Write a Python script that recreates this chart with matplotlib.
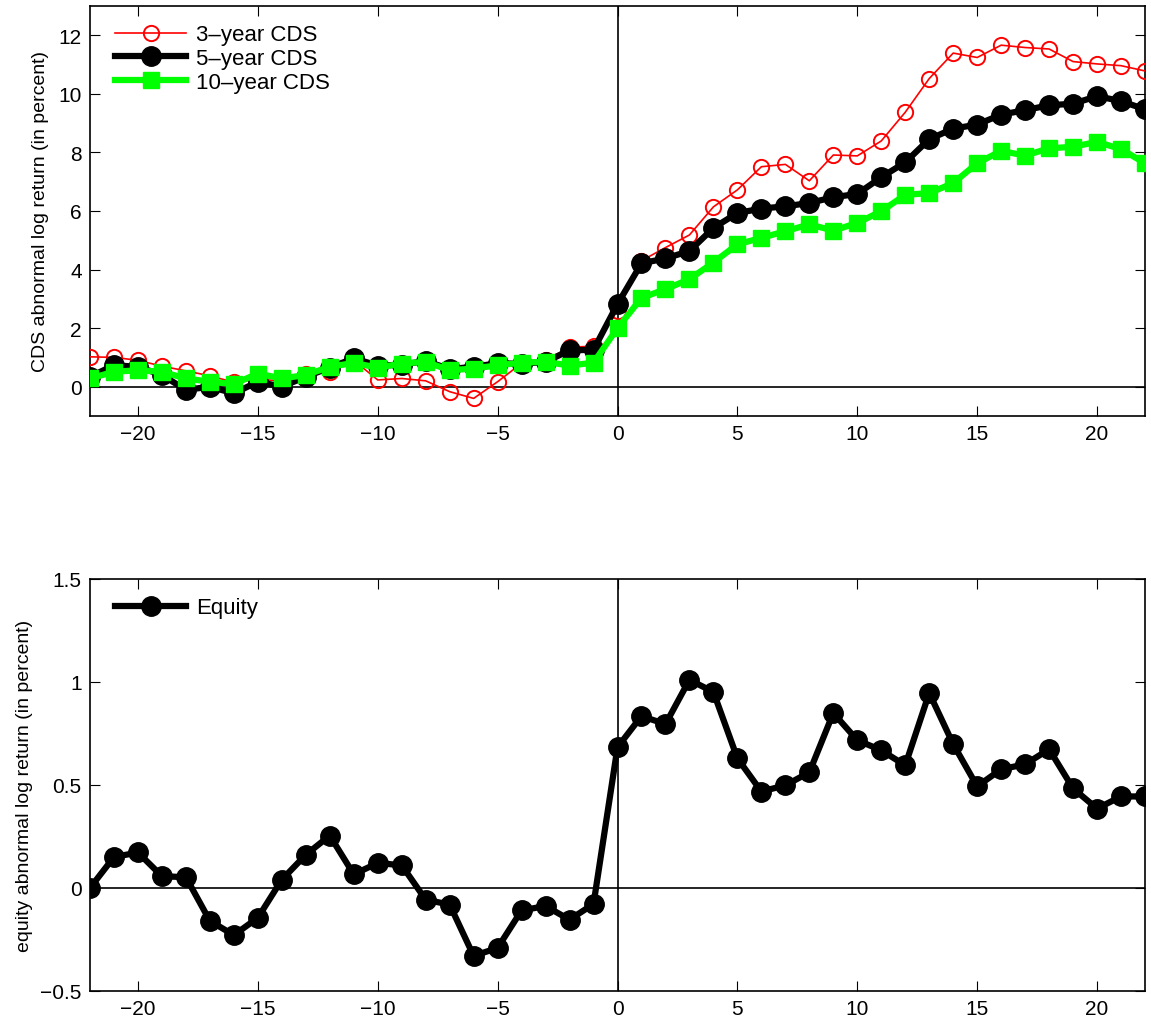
import matplotlib.pyplot as plt

plt.rcParams['font.family'] = ['Liberation Sans', 'DejaVu Sans']
plt.rcParams['font.size'] = 15

# event days relative to the announcement
days = list(range(-22, 23))

cds3 = [1.02, 1.0, 0.9, 0.7, 0.54, 0.37, 0.15, 0.25, 0.2, 0.45, 0.5, 0.9,
        0.23, 0.28, 0.2, -0.17, -0.4, 0.17, 0.8, 0.9, 1.35, 1.38, 2.6,
        4.3, 4.75, 5.18, 6.14, 6.72, 7.51, 7.59, 7.03, 7.91, 7.88, 8.39,
        9.37, 10.52, 11.39, 11.24, 11.66, 11.58, 11.53, 11.1, 11.02, 10.96, 10.78]

cds5 = [0.34, 0.73, 0.68, 0.4, -0.11, 0.0, -0.23, 0.17, 0.0, 0.34, 0.65, 0.97,
        0.72, 0.75, 0.88, 0.6, 0.68, 0.8, 0.78, 0.85, 1.24, 1.26, 2.82,
        4.21, 4.38, 4.63, 5.42, 5.93, 6.08, 6.16, 6.27, 6.47, 6.58, 7.15,
        7.66, 8.45, 8.81, 8.95, 9.29, 9.44, 9.61, 9.66, 9.92, 9.75, 9.47]

cds10 = [0.28, 0.51, 0.56, 0.51, 0.28, 0.17, 0.09, 0.45, 0.28, 0.4, 0.68, 0.81,
         0.65, 0.79, 0.85, 0.56, 0.62, 0.73, 0.82, 0.85, 0.72, 0.82, 2.0,
         3.03, 3.33, 3.67, 4.24, 4.86, 5.08, 5.31, 5.54, 5.33, 5.59, 5.99,
         6.55, 6.61, 6.95, 7.63, 8.05, 7.89, 8.14, 8.19, 8.36, 8.11, 7.63]

equity = [0.0, 0.15, 0.172, 0.057, 0.052, -0.16, -0.229, -0.145, 0.04, 0.161,
          0.254, 0.066, 0.121, 0.11, -0.057, -0.081, -0.33, -0.291, -0.109,
          -0.088, -0.154, -0.078, 0.683, 0.834, 0.795, 1.01, 0.951, 0.629,
          0.468, 0.498, 0.561, 0.849, 0.717, 0.668, 0.595, 0.946, 0.698,
          0.493, 0.576, 0.6, 0.673, 0.483, 0.385, 0.444, 0.444]

top_yticks = [0, 2, 4, 6, 8, 10, 12]
bot_yticks = [-0.5, 0, 0.5, 1, 1.5]
bot_ylabels = ['\u22120.5', '0', '0.5', '1', '1.5']
xticks = [-20, -15, -10, -5, 0, 5, 10, 15, 20]

fig = plt.figure(figsize=(11.51, 10.20), dpi=100)
ax1 = fig.add_axes([0.0782, 0.5912, 0.9166, 0.402])
ax2 = fig.add_axes([0.0782, 0.0275, 0.9166, 0.404])


def style(ax):
    ax.set_xlim(-22, 22)
    ax.set_xticks(xticks)
    ax.tick_params(direction='in', length=7, width=0.8, top=True, right=True,
                   labelsize=15, pad=6)
    for s in ax.spines.values():
        s.set_linewidth(1.2)
    ax.axhline(0, color='black', lw=1.2, zorder=1)
    ax.axvline(0, color='black', lw=1.2, zorder=1)


def add_legend(ax):
    ax.legend(loc='upper left', bbox_to_anchor=(0.0237, 0.955), frameon=False,
              handlelength=3.2, handletextpad=0.45, labelspacing=0.12,
              borderaxespad=0, borderpad=0, fontsize=16)


# CDS panel
ax1.plot(days, cds3, color='red', lw=1.2, marker='o', ms=11, mfc='none',
         mec='red', mew=1.4, label='3\u2013year CDS', zorder=3)
ax1.plot(days, cds5, color='black', lw=4.5, marker='o', ms=14,
         label='5\u2013year CDS', zorder=4)
ax1.plot(days, cds10, color='#00ff00', lw=4.5, marker='s', ms=12,
         label='10\u2013year CDS', zorder=5)
style(ax1)
ax1.set_ylim(-1, 13)
ax1.set_yticks(top_yticks)
ax1.set_ylabel('CDS abnormal log return (in percent)', fontsize=14, labelpad=7)
add_legend(ax1)

# equity panel
ax2.plot(days, equity, color='black', lw=4.5, marker='o', ms=14,
         label='Equity', zorder=4)
style(ax2)
ax2.set_ylim(-0.5, 1.5)
ax2.set_yticks(bot_yticks)
ax2.set_yticklabels(bot_ylabels)
ax2.set_ylabel('equity abnormal log return (in percent)', fontsize=14,
               labelpad=5)
add_legend(ax2)

fig.savefig('out.png', dpi=100)
